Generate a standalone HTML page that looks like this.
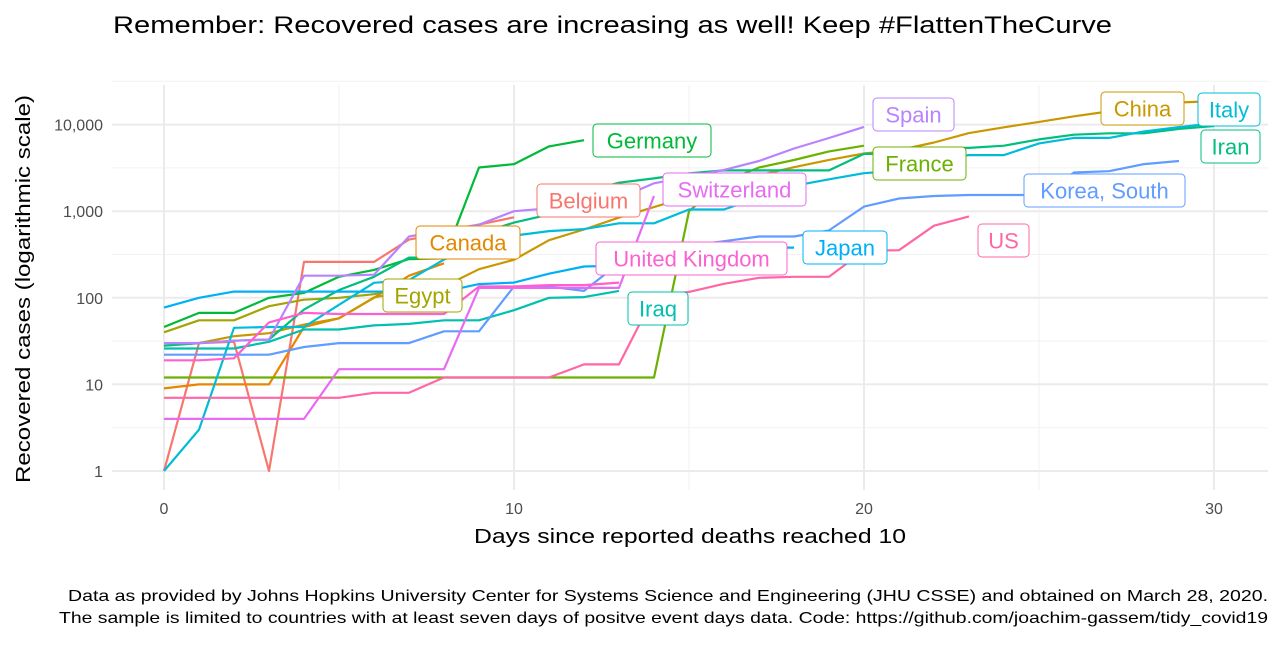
<!DOCTYPE html>
<html><head><meta charset="utf-8"><style>
body{margin:0;background:#fff;font-family:"Liberation Sans",sans-serif}
svg text{font-family:"Liberation Sans",sans-serif}
</style></head><body>
<svg id="chart" width="1280" height="640" viewBox="0 0 1280 640" xmlns="http://www.w3.org/2000/svg">
<rect width="1280" height="640" fill="#fff"/>
<text x="113" y="33" font-size="24" fill="#000" textLength="999" lengthAdjust="spacingAndGlyphs">Remember: Recovered cases are increasing as well! Keep #FlattenTheCurve</text>
<g id="grid"></g>
<g id="lines"></g>
<g id="labels"></g>
<g id="axes"></g>
<text x="474" y="543" font-size="20" textLength="432" lengthAdjust="spacingAndGlyphs">Days since reported deaths reached 10</text>
<text transform="translate(30,483) rotate(-90)" font-size="20" textLength="388" lengthAdjust="spacingAndGlyphs">Recovered cases (logarithmic scale)</text>
<text x="68" y="601" font-size="16" textLength="1200" lengthAdjust="spacingAndGlyphs">Data as provided by Johns Hopkins University Center for Systems Science and Engineering (JHU CSSE) and obtained on March 28, 2020.</text>
<text x="59" y="623" font-size="16" textLength="1209" lengthAdjust="spacingAndGlyphs">The sample is limited to countries with at least seven days of positve event days data. Code: https://github.com/joachim-gassem/tidy_covid19</text>
</svg>
<script>
const countries = ["Belgium","Canada","China","Egypt","France","Germany","Iran","Iraq","Italy","Japan","Korea, South","Spain","Switzerland","United Kingdom","US"];
const belgium = [1,30,31,1,260,260,260,470,560,700,850];
const canada = [9,10,10,10,46,58,100,180,250];
const china = [28,30,36,39,49,58,101,120,135,214,275,463,614,843,1115,1476,1998,2595,3218,3917,4635,5082,6217,7977,9298,10755,12462,14206,15962,18014,18704];
const egypt = [40,55,55,80,95,100,110,130];
const france = [12,12,12,12,12,12,12,12,12,12,12,12,12,12,12,1000,2200,3200,3900,4900,5700];
const germany = [46,67,67,100,114,175,210,280,285,3200,3500,5600,6600];
const iran = [28,30,32,33,73,123,175,291,291,552,739,913,1669,2134,2394,2731,2959,2959,2959,2959,4590,4590,5389,5389,5710,6745,7635,7931,7931,8913,9625];
const iraq = [26,26,26,31,43,43,48,50,55,55,72,100,102,120];
const italy = [1,3,45,46,46,83,149,160,276,414,523,589,622,724,724,1045,1045,1439,1966,2335,2749,2941,4025,4440,4440,6072,7024,7024,8326,9362,10361];
const japan = [77,100,118,118,118,118,118,118,118,144,150,190,230,235,300,330,360,380,380];
const korea = [22,22,22,22,27,30,30,30,41,41,135,135,120,250,330,400,450,510,510,600,1130,1400,1500,1540,1540,1540,2800,2900,3500,3800];
const spain = [30,30,32,33,180,180,185,510,600,700,1000,1080,1100,1400,2100,2500,3000,3800,5300,7000,9400];
const switzerland = [4,4,4,4,4,15,15,15,15,130,130,130,130,130,1500];
const uk = [19,19,20,52,67,65,65,65,65,135,135,140,140,150];
const us = [7,7,7,7,7,7,8,8,12,12,12,12,17,17,105,117,145,170,175,175,350,355,680,870];
const xTicks = [0,10,20,30];
const yTicks = [1,10,100,1000,10000];
const yTickLabels = ["1","10","100","1,000","10,000"];

const series = [belgium,canada,china,egypt,france,germany,iran,iraq,italy,japan,korea,spain,switzerland,uk,us];
const colors = ["#F8766D","#E58700","#C99800","#A3A500","#6BB100","#00BA38","#00BF7D","#00C0AF","#00BCD8","#00B0F6","#619CFF","#B983FF","#E76BF3","#FD61D1","#FF67A4"];
const labelBoxes = [[537,184,103],[416,226,104],[1101,92,83],[383,279,79],[873,147,93],[593,124,118],[1201,130,59],[628,292,60],[1198,93,62],[803,231,84],[1024,174,161],[873,98,81],[663,173,143],[596,242,191],[978,224,51]];

const NS = "http://www.w3.org/2000/svg";
const X0 = 164, PX_PER_DAY = 35, Y0 = 471, PX_PER_DEC = 86.6;
const xs = d => X0 + d * PX_PER_DAY;
const ys = v => Y0 - PX_PER_DEC * Math.log10(v);
function mk(tag, attrs, parent){const e=document.createElementNS(NS,tag);for(const k in attrs)e.setAttribute(k,attrs[k]);parent.appendChild(e);return e;}

const grid = document.getElementById('grid');
const L = 112, R = 1268, T = 85, B = 490;
for (let d = 5; d <= 30; d += 10) {
  const ln = mk('line',{x1:xs(d),x2:xs(d),y1:T,y2:B,stroke:'#f2f2f2','stroke-width':1},grid);
  
  
}
for (let e = 0.5; e < 4.6; e += 1) {
  const ln = mk('line',{x1:L,x2:R,y1:ys(Math.pow(10,e)),y2:ys(Math.pow(10,e)),stroke:'#f2f2f2','stroke-width':1},grid);
  
  
}
const axes = document.getElementById('axes');
xTicks.forEach(d => {
  const ln = mk('line',{x1:xs(d),x2:xs(d),y1:T,y2:B,stroke:'#ebebeb','stroke-width':2},grid);
  
  
  const t = mk('text',{x:xs(d),y:514,'font-size':16,fill:'#4d4d4d','text-anchor':'middle'},axes);
  t.textContent = d;
  
  
});
yTicks.forEach((v,i) => {
  const ln = mk('line',{x1:L,x2:R,y1:ys(v),y2:ys(v),stroke:'#ebebeb','stroke-width':2},grid);
  
  
  const t = mk('text',{x:103,y:ys(v)+6,'font-size':16,fill:'#4d4d4d','text-anchor':'end'},axes);
  t.textContent = yTickLabels[i];
  
  
});

const lines = document.getElementById('lines');
const labels = document.getElementById('labels');
series.forEach((s,i) => {
  const pts = s.map((v,d) => xs(d).toFixed(1)+','+ys(v).toFixed(1)).join(' ');
  const pl = mk('polyline',{points:pts,fill:'none',stroke:colors[i],'stroke-width':2.2,'stroke-linejoin':'round'},lines);
  
  
});
series.forEach((s,i) => {
  const [bx,by,bw] = labelBoxes[i];
  const g = mk('g',{},labels);
  
  
  mk('rect',{x:bx,y:by,width:bw,height:33,rx:4,fill:'#fff',stroke:colors[i],'stroke-width':1},g);
  const t = mk('text',{x:bx+bw/2,y:by+24.5,'font-size':22,fill:colors[i],'text-anchor':'middle'},g);
  t.textContent = countries[i];
});
</script>
</body></html>
